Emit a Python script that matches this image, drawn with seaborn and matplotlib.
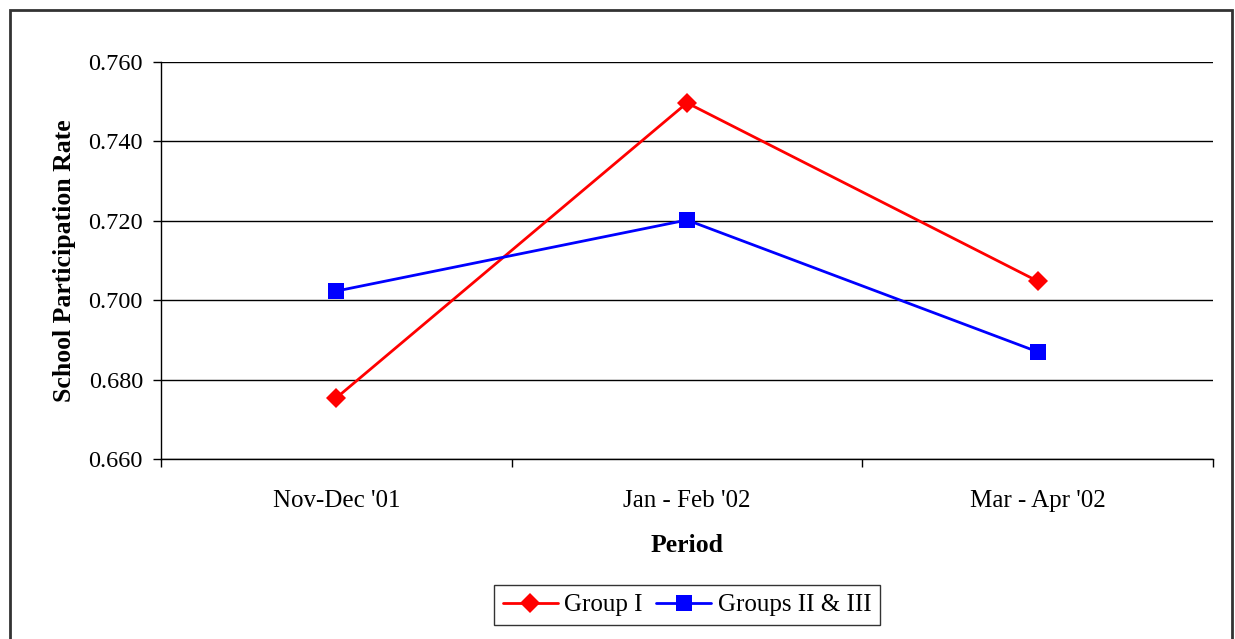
import matplotlib
matplotlib.use("Agg")
import matplotlib.pyplot as plt
import matplotlib.patches as mpatches
import seaborn as sns
import pandas as pd

periods = ["Nov-Dec '01", "Jan - Feb '02", "Mar - Apr '02"]
group_i = [0.6754, 0.7497, 0.7048]
groups_ii_iii = [0.7023, 0.7202, 0.6870]
series_names = ["Group I", "Groups II & III"]
y_ticks = [0.660, 0.680, 0.700, 0.720, 0.740, 0.760]

df = pd.DataFrame({
    "Period": list(range(len(periods))) * 2,
    "Rate": group_i + groups_ii_iii,
    "Series": [series_names[0]] * 3 + [series_names[1]] * 3,
})

sns.set_theme(style="white")
plt.rcParams["font.family"] = ["Liberation Serif", "DejaVu Serif"]
plt.rcParams.update({
    "text.color": "black", "axes.labelcolor": "black",
    "xtick.color": "black", "ytick.color": "black",
})

fig = plt.figure(figsize=(12.35, 6.39), dpi=100)
ax = fig.add_axes([161 / 1235, 1 - 459 / 639, (1213 - 161) / 1235, (459 - 62) / 639])

sns.lineplot(
    data=df, x="Period", y="Rate", hue="Series", style="Series",
    palette={series_names[0]: "#ff0000", series_names[1]: "#0000ff"},
    markers={series_names[0]: "D", series_names[1]: "s"},
    dashes=False, linewidth=2, markersize=12, markeredgewidth=0,
    ax=ax, legend=True, zorder=3,
)
# diamond marker slightly smaller than square
for line in ax.lines:
    if line.get_marker() == "D":
        line.set_markersize(10)

ax.set_xlim(-0.5, len(periods) - 0.5)
ax.set_ylim(y_ticks[0], y_ticks[-1])
ax.set_yticks(y_ticks)
ax.set_yticklabels([f"{v:.3f}" for v in y_ticks], fontsize=17.5)
ax.set_xticks([i - 0.5 for i in range(len(periods) + 1)])
ax.set_xticklabels([])
ax.set_xticks(range(len(periods)), minor=True)
ax.set_xticklabels(periods, minor=True, fontsize=18)
ax.tick_params(axis="x", which="minor", length=0, pad=22)
ax.tick_params(axis="x", which="major", direction="out", length=6, width=1, color="black", bottom=True)
ax.tick_params(axis="y", direction="out", length=6, width=1, color="black", left=True, pad=7)

ax.grid(axis="y", color="black", linewidth=1)
ax.set_axisbelow(True)
for side in ["top", "right"]:
    ax.spines[side].set_visible(False)
for side in ["left", "bottom"]:
    ax.spines[side].set_color("black")
    ax.spines[side].set_linewidth(1)

ax.set_xlabel("Period", fontsize=18.5, fontweight="bold", labelpad=16)
ax.set_ylabel("School Participation Rate", fontsize=18.5, fontweight="bold", labelpad=9)

handles, labels = ax.get_legend_handles_labels()
ax.legend_.remove()
fig.legend(
    handles, labels, loc="center", bbox_to_anchor=(687 / 1235, 1 - 605 / 639),
    ncol=2, fontsize=18, frameon=True, fancybox=False, edgecolor="black",
    handlelength=2.2, columnspacing=0.55, handletextpad=0.25, borderpad=0.35,
)
fig.legends[0].get_frame().set_linewidth(1)

# outer chart border
fig.patches.append(mpatches.Rectangle(
    (10 / 1235, -0.05), (1232 - 10) / 1235, 1.05 - 10 / 639,
    transform=fig.transFigure, fill=False, edgecolor="#333333", linewidth=2,
))

fig.savefig("out.png", dpi=100, facecolor="white")
